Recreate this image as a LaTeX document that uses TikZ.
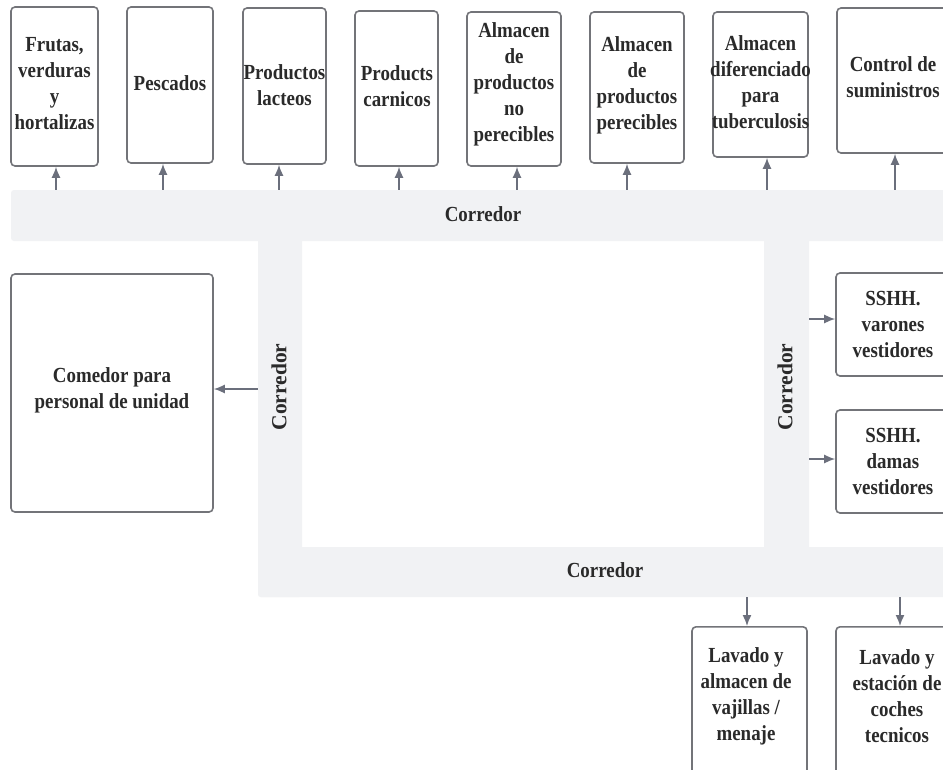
\documentclass[tikz,border=0pt]{standalone}
\usepackage{fontspec}
\newfontfamily\lblfont{Liberation Serif}[FakeStretch=0.88]
\newfontfamily\vlblfont{Liberation Serif}
\usetikzlibrary{arrows.meta}
\definecolor{corr}{HTML}{F1F2F4}
\definecolor{edge}{HTML}{737479}
\definecolor{arrowc}{HTML}{6B6F7C}
\definecolor{ink}{HTML}{2A2A2A}
\begin{document}
\begin{tikzpicture}[x=1pt,y=-1pt,
  room/.style={draw=edge, line width=1.6pt, rounded corners=4pt, fill=white, inner sep=0pt},
  txt/.style={font=\lblfont\bfseries\fontsize{21.5}{26}\selectfont, text=ink, align=center, inner sep=0pt},
  vtxt/.style={font=\vlblfont\bfseries\fontsize{21.5}{26}\selectfont, text=ink, inner sep=0pt, rotate=90},
  hall/.style={fill=corr, draw=none, inner sep=0pt, rounded corners=3pt},
  flow/.style={draw=arrowc, line width=1.5pt, -{Latex[length=11pt,width=9pt]}}]
\useasboundingbox (0,0) rectangle (943,769);
\clip (0,0) rectangle (943,769);
\fill[white] (0,0) rectangle (943,769);

% corridors
\node[hall, minimum width=944pt, minimum height=51pt] (htop) at (483,215.5) {};
\node[hall, minimum width=44pt, minimum height=366pt] (hleft) at (280,414) {};
\node[hall, minimum width=697pt, minimum height=50pt] (hbot) at (606.5,572) {};
\node[hall, minimum width=45pt, minimum height=316pt] (hright) at (786.5,394) {};
\node[txt] (ltop) at (483,214) {Corredor};
\node[txt] (lbot) at (605,570) {Corredor};
\node[vtxt] (lleft) at (279,387) {Corredor};
\node[vtxt] (lright) at (785,387) {Corredor};

% top row of rooms
\node[room, minimum width=87pt, minimum height=159pt] (fr) at (54.5,86.5) {};
\node[room, minimum width=86pt, minimum height=156pt] (pe) at (170,85) {};
\node[room, minimum width=83pt, minimum height=156pt] (pl) at (284.5,86) {};
\node[room, minimum width=83pt, minimum height=155pt] (pc) at (396.5,88.5) {};
\node[room, minimum width=94pt, minimum height=154pt] (anp) at (514,89) {};
\node[room, minimum width=94pt, minimum height=151pt] (ap) at (637,87.5) {};
\node[room, minimum width=95pt, minimum height=145pt] (ad) at (760.5,84.5) {};
\node[room, minimum width=114pt, minimum height=145pt] (cs) at (894,80.5) {};

\node[txt] (frt) at (54.5,84) {Frutas,\\verduras\\y\\hortalizas};
\node[txt] (pet) at (170,83) {Pescados};
\node[txt] (plt) at (284.5,85) {Productos\\lacteos};
\node[txt] (pct) at (397,86) {Products\\carnicos};
\node[txt] (anpt) at (514,84) {Almacen\\de\\productos\\no\\perecibles};
\node[txt] (apt) at (637,85) {Almacen\\de\\productos\\perecibles};
\node[txt] (adt) at (760.5,82) {Almacen\\diferenciado\\para\\tuberculosis};
\node[txt] (cst) at (893,77) {Control de\\suministros};

% side rooms
\node[room, minimum width=202pt, minimum height=238pt] (com) at (112,393) {};
\node[txt] (comt) at (112,390) {Comedor para\\personal de unidad};
\node[room, minimum width=114pt, minimum height=103pt] (sv) at (893,324.5) {};
\node[txt] (svt) at (893,324) {SSHH.\\varones\\vestidores};
\node[room, minimum width=114pt, minimum height=103pt] (sd) at (893,461.5) {};
\node[txt] (sdt) at (893,461) {SSHH.\\damas\\vestidores};

% bottom rooms
\node[room, minimum width=115pt, minimum height=170pt, anchor=north] (lv) at (749.5,626) {};
\node[txt] (lvt) at (746,696) {Lavado y\\almacen de\\vajillas /\\menaje};
\node[room, minimum width=122pt, minimum height=170pt, anchor=north] (le) at (897,626) {};
\node[txt] (let) at (897,696) {Lavado y\\estación de\\coches\\tecnicos};

% connectors from the corridors
\foreach \r/\x in {fr/56,pe/163,pl/279,pc/399,anp/517,ap/627,ad/767,cs/895}
  \draw[flow] (htop.north -| \x,0) -- (\r.south -| \x,0);
\draw[flow] (hleft.west |- 0,389) -- (com.east |- 0,389);
\draw[flow] (hright.east |- 0,319) -- (sv.west |- 0,319);
\draw[flow] (hright.east |- 0,459) -- (sd.west |- 0,459);
\draw[flow] (hbot.south -| 747,0) -- (lv.north -| 747,0);
\draw[flow] (hbot.south -| 900,0) -- (le.north -| 900,0);
\end{tikzpicture}
\end{document}
